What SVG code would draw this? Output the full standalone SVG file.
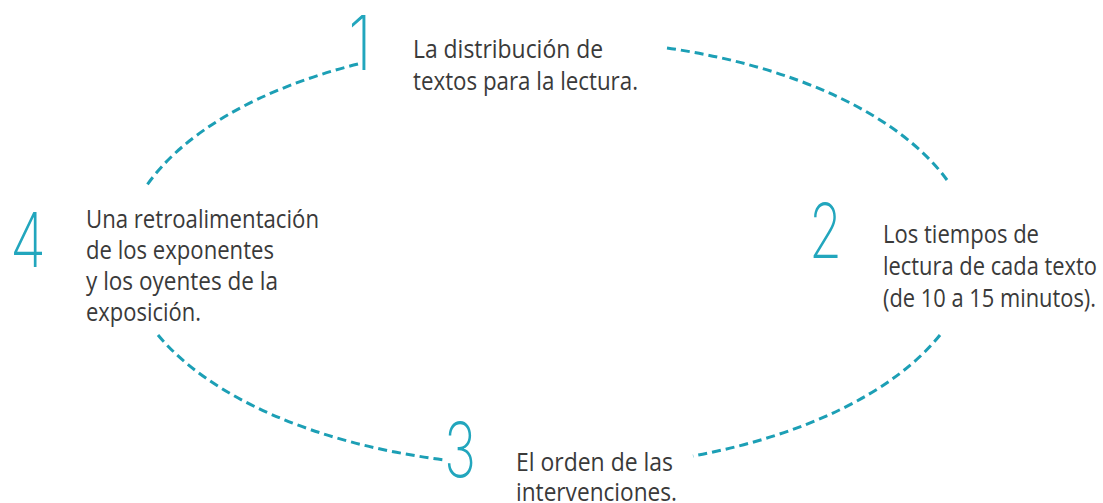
<svg xmlns="http://www.w3.org/2000/svg" width="1103" height="503" viewBox="0 0 1103 503">
<style>
.num{font-family:Inter,"Open Sans",sans-serif;font-weight:200;font-size:76px;fill:#22a6bd}
.txt{font-family:"Open Sans","Noto Sans","Liberation Sans",sans-serif;font-size:25px;fill:#3a3a3a}
.arc{fill:none;stroke:#1c9fb5;stroke-width:3;stroke-dasharray:9 5}
</style>
<rect width="1103" height="503" fill="#ffffff"/>
<g id="connectors">
<path class="arc" d="M358,64 A420,216 0 0,0 145,188"/>
<path class="arc" d="M667,48 A420,216 0 0,1 947,180"/>
<path class="arc" d="M940,335 A420,216 0 0,1 693,456"/>
<path class="arc" d="M158,335 A420,216 0 0,0 445,460"/>
</g>
<g id="node1">
<text class="num" x="348" y="70" textLength="24" lengthAdjust="spacingAndGlyphs">1</text>
<text class="txt" x="413" y="58" textLength="190" lengthAdjust="spacingAndGlyphs">La distribución de</text>
<text class="txt" x="413" y="90" textLength="225" lengthAdjust="spacingAndGlyphs">textos para la lectura.</text>
</g>
<g id="node2">
<text class="num" x="809" y="258" textLength="33" lengthAdjust="spacingAndGlyphs">2</text>
<text class="txt" x="883" y="243" textLength="156" lengthAdjust="spacingAndGlyphs">Los tiempos de</text>
<text class="txt" x="883" y="275" textLength="214" lengthAdjust="spacingAndGlyphs">lectura de cada texto</text>
<text class="txt" x="883" y="307" textLength="213" lengthAdjust="spacingAndGlyphs">(de 10 a 15 minutos).</text>
</g>
<g id="node3">
<text class="num" x="444" y="477" textLength="32" lengthAdjust="spacingAndGlyphs">3</text>
<text class="txt" x="516" y="471" textLength="157" lengthAdjust="spacingAndGlyphs">El orden de las</text>
<text class="txt" x="516" y="501" textLength="161" lengthAdjust="spacingAndGlyphs">intervenciones.</text>
</g>
<g id="node4">
<text class="num" x="10" y="267" textLength="36" lengthAdjust="spacingAndGlyphs">4</text>
<text class="txt" x="86" y="228" textLength="233" lengthAdjust="spacingAndGlyphs">Una retroalimentación</text>
<text class="txt" x="86" y="259" textLength="188" lengthAdjust="spacingAndGlyphs">de los exponentes</text>
<text class="txt" x="86" y="290" textLength="192" lengthAdjust="spacingAndGlyphs">y los oyentes de la</text>
<text class="txt" x="86" y="321" textLength="115" lengthAdjust="spacingAndGlyphs">exposición.</text>
</g>
</svg>
